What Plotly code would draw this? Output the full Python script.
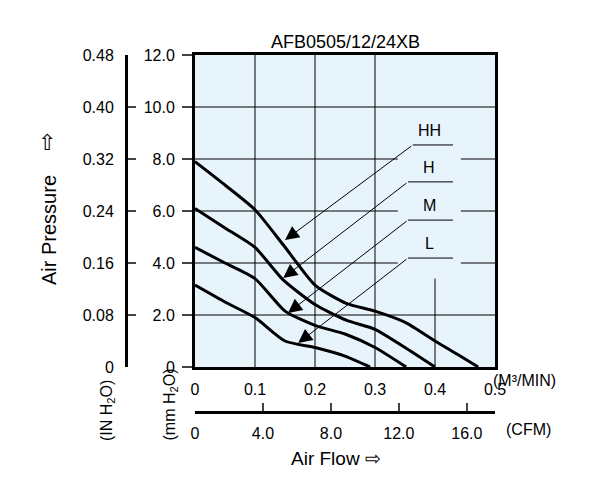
import plotly.graph_objects as go

# air flow (M3/MIN) and static pressure (mm H2O) per speed
hh_x = [0, 0.05, 0.1, 0.147, 0.2, 0.252, 0.3, 0.352, 0.4, 0.44, 0.472]
hh_y = [7.9, 7.0, 6.05, 4.7, 3.15, 2.45, 2.15, 1.7, 1.0, 0.45, 0]
h_x = [0, 0.05, 0.1, 0.147, 0.2, 0.252, 0.3, 0.35, 0.4]
h_y = [6.1, 5.35, 4.6, 3.35, 2.4, 1.8, 1.45, 0.75, 0]
m_x = [0, 0.05, 0.1, 0.15, 0.2, 0.25, 0.3, 0.352]
m_y = [4.6, 4.0, 3.4, 2.15, 1.6, 1.27, 0.75, 0]
l_x = [0, 0.05, 0.1, 0.15, 0.2, 0.25, 0.292]
l_y = [3.15, 2.5, 1.9, 1.0, 0.75, 0.42, 0]

labels = ["HH", "H", "M", "L"]
arrow_head = [(0.15, 4.88), (0.147, 3.42), (0.155, 2.08), (0.172, 0.92)]
arrow_tail = [(0.363, 8.54), (0.355, 7.12), (0.355, 5.65), (0.355, 4.19)]

mm_ticks = [0, 2, 4, 6, 8, 10, 12]
mm_text = ["0", "2.0", "4.0", "6.0", "8.0", "10.0", "12.0"]
in_ticks = [0, 0.08, 0.16, 0.24, 0.32, 0.40, 0.48]
in_text = ["0", "0.08", "0.16", "0.24", "0.32", "0.40", "0.48"]
cmm_ticks = [0, 0.1, 0.2, 0.3, 0.4, 0.5]
cmm_text = ["0", "0.1", "0.2", "0.3", "0.4", "0.5"]
cfm_ticks = [0, 4, 8, 12, 16]
cfm_text = ["0", "4.0", "8.0", "12.0", "16.0"]

FONT = "Liberation Sans, Arial"
fig = go.Figure()
for xs, ys in [(hh_x, hh_y), (h_x, h_y), (m_x, m_y), (l_x, l_y)]:
    fig.add_trace(go.Scatter(x=xs, y=ys, mode="lines", line=dict(color="black", width=3, shape="spline", smoothing=0.6),
                             showlegend=False, hoverinfo="skip"))

# grid drawn by hand so it can break behind the labels
shapes = []
for v in [0.1, 0.2, 0.3]:
    shapes.append(dict(type="line", x0=v, x1=v, y0=0, y1=12, xref="x", yref="y", line=dict(color="black", width=1), layer="below"))
shapes.append(dict(type="line", x0=0.4, x1=0.4, y0=0, y1=3.4, xref="x", yref="y", line=dict(color="black", width=1), layer="below"))
for v in [2, 10]:
    shapes.append(dict(type="line", x0=0, x1=0.5, y0=v, y1=v, xref="x", yref="y", line=dict(color="black", width=1), layer="below"))
for v in [4, 6, 8]:
    shapes.append(dict(type="line", x0=0, x1=0.338, y0=v, y1=v, xref="x", yref="y", line=dict(color="black", width=1), layer="below"))
    shapes.append(dict(type="line", x0=0.443, x1=0.5, y0=v, y1=v, xref="x", yref="y", line=dict(color="black", width=1), layer="below"))

annotations = []
for lab, (hx, hy), (tx, ty) in zip(labels, arrow_head, arrow_tail):
    shapes.append(dict(type="line", x0=tx, x1=0.43, y0=ty, y1=ty, xref="x", yref="y", line=dict(color="black", width=1)))
    annotations.append(dict(x=hx, y=hy, ax=tx, ay=ty, xref="x", yref="y", axref="x", ayref="y", text="",
                            showarrow=True, arrowhead=2, arrowsize=2.8, arrowwidth=1, arrowcolor="black"))
    annotations.append(dict(x=0.39, y=ty + 0.15, xref="x", yref="y", text=lab, showarrow=False,
                            yanchor="bottom", font=dict(size=16, color="black", family=FONT)))


def px_x(p):
    return (p - 100) / 387


def px_y(p):
    return (418 - p) / 371


for txt, x, y, ang, sz in [("AFB0505/12/24XB", 337, 22, 0, 18), ("Air Pressure", 28, 222, -90, 20), ("⇧", 28, 120, 0, 22),
                           ("(IN H<sub>2</sub>O)", 88, 435, -90, 16), ("(mm H<sub>2</sub>O)", 150, 435, -90, 16),
                           ("(M³/MIN)", 550, 383, 0, 16), ("(CFM)", 545, 432, 0, 16), ("Air Flow ⇨", 375, 463, 0, 19)]:
    annotations.append(dict(x=px_x(x), y=px_y(y), xref="paper", yref="paper", text=txt, showarrow=False,
                            textangle=ang, font=dict(size=sz, color="black", family=FONT)))

fig.update_layout(
    width=598, height=488, margin=dict(l=100, r=111, t=47, b=70),
    paper_bgcolor="white", plot_bgcolor="#e8f4fc",
    font=dict(family=FONT, size=16, color="black"),
    shapes=shapes, annotations=annotations,
    xaxis=dict(domain=[87 / 387, 1], range=[0, 0.5], showgrid=False, zeroline=False, showline=True, mirror=True,
               linewidth=3, linecolor="black", tickvals=cmm_ticks, ticktext=cmm_text, ticks="", ticklabelstandoff=6,
               automargin=False),
    yaxis=dict(domain=[59 / 371, 1], range=[0, 12], showgrid=False, zeroline=False, showline=True, mirror=True,
               linewidth=3, linecolor="black", tickvals=mm_ticks, ticktext=mm_text, ticks="outside",
               ticklen=10, tickwidth=2, ticklabelstandoff=4, automargin=False),
    yaxis2=dict(overlaying="y", anchor="free", position=18 / 387, side="left", range=[0, 0.48], showgrid=False,
                zeroline=False, showline=True, linewidth=3, linecolor="black", tickvals=in_ticks, ticktext=in_text,
                ticks="inside", ticklen=8, tickwidth=2, ticklabelstandoff=8, automargin=False),
    xaxis2=dict(overlaying="x", anchor="free", position=14 / 371, side="bottom", range=[0, 0.5 * 35.315],
                showgrid=False, zeroline=False, showline=True, linewidth=3, linecolor="black",
                tickvals=cfm_ticks, ticktext=cfm_text, ticks="inside", ticklen=8, tickwidth=2, ticklabelstandoff=6,
                automargin=False),
)
fig.add_trace(go.Scatter(x=[0], y=[0], xaxis="x2", yaxis="y2", mode="markers", marker=dict(opacity=0),
                         showlegend=False, hoverinfo="skip"))
fig.write_html("out.html")
